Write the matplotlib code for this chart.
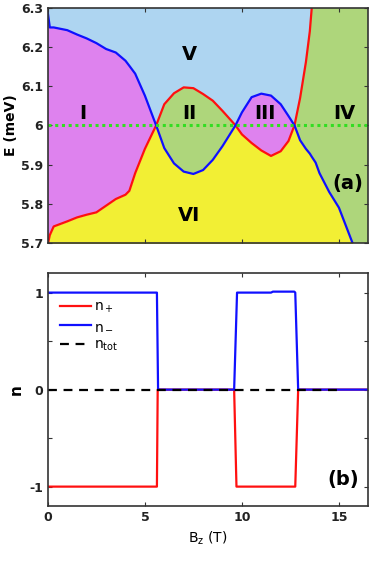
import numpy as np
import matplotlib
matplotlib.use("Agg")
import matplotlib.pyplot as plt

# ---- Panel (a) data ----
bz = np.array([0, 0.1, 0.3, 1, 1.5, 2, 2.5, 3, 3.5, 4, 4.2, 4.5, 5, 5.58, 6,
               6.5, 7, 7.5, 8, 8.5, 9, 9.67, 10, 10.5, 11, 11.5, 12, 12.4,
               12.71, 13, 13.3, 13.5, 13.6, 13.8, 14, 14.5, 15, 15.7, 16.5])
e_blue = np.array([6.287, 6.25, 6.25, 6.243, 6.232, 6.222, 6.21, 6.195, 6.186,
                   6.165, 6.152, 6.132, 6.076, 6.0, 5.942, 5.903, 5.882, 5.876,
                   5.886, 5.912, 5.947, 6.0, 6.033, 6.072, 6.081, 6.076, 6.054,
                   6.024, 6.0, 5.962, 5.94, 5.928, 5.92, 5.905, 5.878, 5.83,
                   5.79, 5.70, 5.60])
e_red = np.array([5.697, 5.72, 5.742, 5.755, 5.765, 5.772, 5.778, 5.795, 5.812,
                  5.823, 5.833, 5.878, 5.94, 6.0, 6.054, 6.082, 6.097, 6.095,
                  6.08, 6.063, 6.037, 6.0, 5.977, 5.955, 5.936, 5.922, 5.934,
                  5.96, 6.0, 6.07, 6.162, 6.24, 6.30, 6.6, 7.0, 7.0, 7.0, 7.0,
                  7.0])

region_labels = ["I", "II", "III", "IV", "V", "VI"]
region_x = [1.8, 7.3, 11.2, 15.3, 7.3, 7.3]
region_y = [6.03, 6.03, 6.03, 6.03, 6.18, 5.77]

# ---- Panel (b) data ----
b_plus = [0, 5.62, 5.66, 9.6, 9.72, 12.75, 12.9, 16.5]
n_plus = [-1, -1, 0, 0, -1, -1, 0, 0]
b_minus = [0, 5.62, 5.68, 9.6, 9.75, 11.5, 11.6, 12.7, 12.75, 12.9, 16.5]
n_minus = [1, 1, 0, 0, 1, 1, 1.01, 1.01, 1, 0, 0]
b_tot = [0, 15.0]
n_tot = [0, 0]

c_blue = "#AED5F1"
c_mag = "#DE82EE"
c_green = "#AED67B"
c_yellow = "#F2EF34"

fig = plt.figure(figsize=(3.74, 5.61), dpi=100)
ax1 = fig.add_axes([0.128, 0.567, 0.856, 0.419])
ax2 = fig.add_axes([0.128, 0.098, 0.856, 0.415])

lo = np.minimum(e_blue, e_red)
hi = np.maximum(e_blue, e_red)
ax1.fill_between(bz, 5.5, lo, color=c_yellow, lw=0)
ax1.fill_between(bz, hi, 7.5, color=c_blue, lw=0)
ax1.fill_between(bz, e_red, e_blue, where=e_blue >= e_red, interpolate=True,
                 color=c_mag, lw=0)
ax1.fill_between(bz, e_blue, e_red, where=e_red >= e_blue, interpolate=True,
                 color=c_green, lw=0)
ax1.plot(bz, e_red, color="#FF1010", lw=1.6)
ax1.plot(bz, e_blue, color="#1010FF", lw=1.6)
ax1.axhline(6.0, color="#33DD22", lw=2.2, ls=(0, (1, 1.2)))
for lab, x, y in zip(region_labels, region_x, region_y):
    ax1.text(x, y, lab, fontsize=14, fontweight="bold", ha="center", va="center")
ax1.text(15.45, 5.852, "(a)", fontsize=14, fontweight="bold", ha="center", va="center")
ax1.set_xlim(0, 16.5)
ax1.set_ylim(5.7, 6.3)
ax1.set_yticks([5.7, 5.8, 5.9, 6.0, 6.1, 6.2, 6.3])
ax1.set_yticklabels(["5.7", "5.8", "5.9", "6", "6.1", "6.2", "6.3"])
ax1.set_xticks([0, 5, 10, 15])
ax1.set_xticklabels([])
ax1.set_ylabel("E (meV)", fontsize=10, fontweight="bold", labelpad=2)

ax2.plot(b_plus, n_plus, color="#FF1010", lw=1.6, label=r"$\mathregular{n_+}$")
ax2.plot(b_minus, n_minus, color="#1010FF", lw=1.6, label=r"$\mathregular{n_-}$")
ax2.plot(b_tot, n_tot, color="black", lw=1.6, ls=(0, (4, 3)),
         label=r"$\mathregular{n_{tot}}$")
ax2.set_xlim(0, 16.5)
ax2.set_ylim(-1.2, 1.2)
ax2.set_xticks([0, 5, 10, 15])
ax2.set_yticks([-1, -0.5, 0, 0.5, 1])
ax2.set_yticklabels(["-1", "", "0", "", "1"])
ax2.set_xlabel(r"$\mathregular{B_z}$ (T)", fontsize=10, labelpad=4)
ax2.set_ylabel("n", fontsize=11, fontweight="bold", labelpad=4)
ax2.text(15.2, -0.93, "(b)", fontsize=14, fontweight="bold", ha="center", va="center")
leg = ax2.legend(loc="upper left", frameon=False, fontsize=10, handlelength=2.2,
                 handletextpad=0.25, bbox_to_anchor=(0.0, 0.94), labelspacing=0.3)

for ax in (ax1, ax2):
    for s in ax.spines.values():
        s.set_color("#333333")
        s.set_linewidth(1.2)
    ax.tick_params(direction="in", length=3, color="#333333", labelsize=9,
                   labelcolor="#222222", top=True, right=True)
    for t in ax.get_xticklabels() + ax.get_yticklabels():
        t.set_fontweight("bold")

fig.savefig("out.png", dpi=100)
